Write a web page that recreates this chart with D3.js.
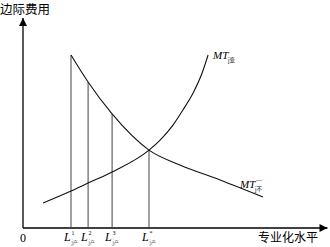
<!DOCTYPE html>
<html>
<head>
<meta charset="utf-8">
<script src="https://cdn.jsdelivr.net/npm/d3@7"></script>
<style>
  body { margin: 0; background: #fff; }
  text { font-family: "Liberation Serif", serif; }
  .cjk { font-family: "Noto Sans CJK SC", sans-serif; }
</style>
</head>
<body>
<div id="chart"></div>
<script>
// curve values (abstract units, 0..100)
const fallX = [16, 21.7, 29.7, 42, 52.3, 65.7, 80];
const fallY = [82.4, 69.5, 54.3, 37.1, 30, 22.9, 14.8];
const riseX = [6.7, 16, 21.7, 29.7, 42, 45.7, 50, 53.3, 56.7, 59.7, 61.7];
const riseY = [11.9, 17.6, 21.4, 26.7, 37.1, 41.9, 49, 56.2, 64.3, 73.8, 82.4];
const levelX = [16, 21.7, 29.7, 42];
const levelTop = [82.4, 69.5, 54.3, 37.1];
const levelSup = ['1', '2', '3', '*'];

const W = 330, H = 247;
const x = d3.scaleLinear().domain([0, 100]).range([23, 323]);
const y = d3.scaleLinear().domain([0, 100]).range([228, 18]);

const svg = d3.select('#chart').append('svg')
  .attr('width', W)
  .attr('height', H);

svg.append('defs').append('marker')
  .attr('id', 'arr')
  .attr('viewBox', '0 0 10 10')
  .attr('refX', 10).attr('refY', 5)
  .attr('markerWidth', 10).attr('markerHeight', 8)
  .attr('markerUnits', 'userSpaceOnUse')
  .attr('orient', 'auto')
  .append('path').attr('d', 'M0,0L10,5L0,10z').attr('fill', '#000');

// axes
svg.append('line')
  .attr('x1', x(0)).attr('y1', y(0)).attr('x2', x(0)).attr('y2', y(100))
  .attr('stroke', '#000').attr('stroke-width', 1.3).attr('marker-end', 'url(#arr)');
svg.append('line')
  .attr('x1', x(0)).attr('y1', y(0)).attr('x2', x(101.5)).attr('y2', y(0))
  .attr('stroke', '#000').attr('stroke-width', 1.3).attr('marker-end', 'url(#arr)');

// vertical drop lines
svg.selectAll('.drop')
  .data(levelX)
  .enter()
  .append('line')
  .attr('class', 'drop')
  .attr('x1', d => x(d)).attr('x2', d => x(d))
  .attr('y1', y(0)).attr('y2', (d, i) => y(levelTop[i]))
  .attr('stroke', '#444').attr('stroke-width', 1);

const line = d3.line()
  .x(d => x(d[0]))
  .y(d => y(d[1]))
  .curve(d3.curveMonotoneX);

svg.append('path')
  .datum(d3.zip(fallX, fallY))
  .attr('d', line)
  .attr('fill', 'none').attr('stroke', '#111').attr('stroke-width', 1.1);

svg.append('path')
  .datum(d3.zip(riseX, riseY))
  .attr('d', line)
  .attr('fill', 'none').attr('stroke', '#111').attr('stroke-width', 1.1);

// axis titles
svg.append('text').attr('class', 'cjk')
  .attr('x', 0).attr('y', 14)
  .attr('font-size', 12.5)
  .text('边际费用');
svg.append('text').attr('class', 'cjk')
  .attr('x', 258).attr('y', 242)
  .attr('font-size', 12)
  .text('专业化水平');
svg.append('text')
  .attr('x', 20).attr('y', 242)
  .attr('font-size', 12)
  .text('0');

// L labels
const lab = svg.selectAll('.lab')
  .data(levelX)
  .enter()
  .append('g')
  .attr('class', 'lab')
  .attr('transform', d => `translate(${x(d) - 7},241)`);
lab.append('text')
  .attr('font-size', 12).attr('font-style', 'italic')
  .text('L');
lab.append('text')
  .attr('x', 7.5).attr('y', -6)
  .attr('font-size', 6)
  .text((d, i) => levelSup[i]);
lab.append('text').attr('class', 'cjk')
  .attr('x', 7.5).attr('y', 3)
  .attr('font-size', 5).attr('fill', '#555')
  .text('j产');

// MT labels
function mtLabel(px, py, sub, sup) {
  const g = svg.append('g').attr('transform', `translate(${px},${py})`);
  g.append('text')
    .attr('font-size', 11).attr('font-style', 'italic')
    .text('MT');
  g.append('text').attr('class', 'cjk')
    .attr('x', 15).attr('y', 3)
    .attr('font-size', 5.5)
    .text(sub);
  if (sup) {
    g.append('text')
      .attr('x', 16).attr('y', -6)
      .attr('font-size', 6)
      .text(sup);
  }
}
mtLabel(213, 59, 'j变', null);
mtLabel(240, 188, 'j不', '—');
</script>
</body>
</html>
